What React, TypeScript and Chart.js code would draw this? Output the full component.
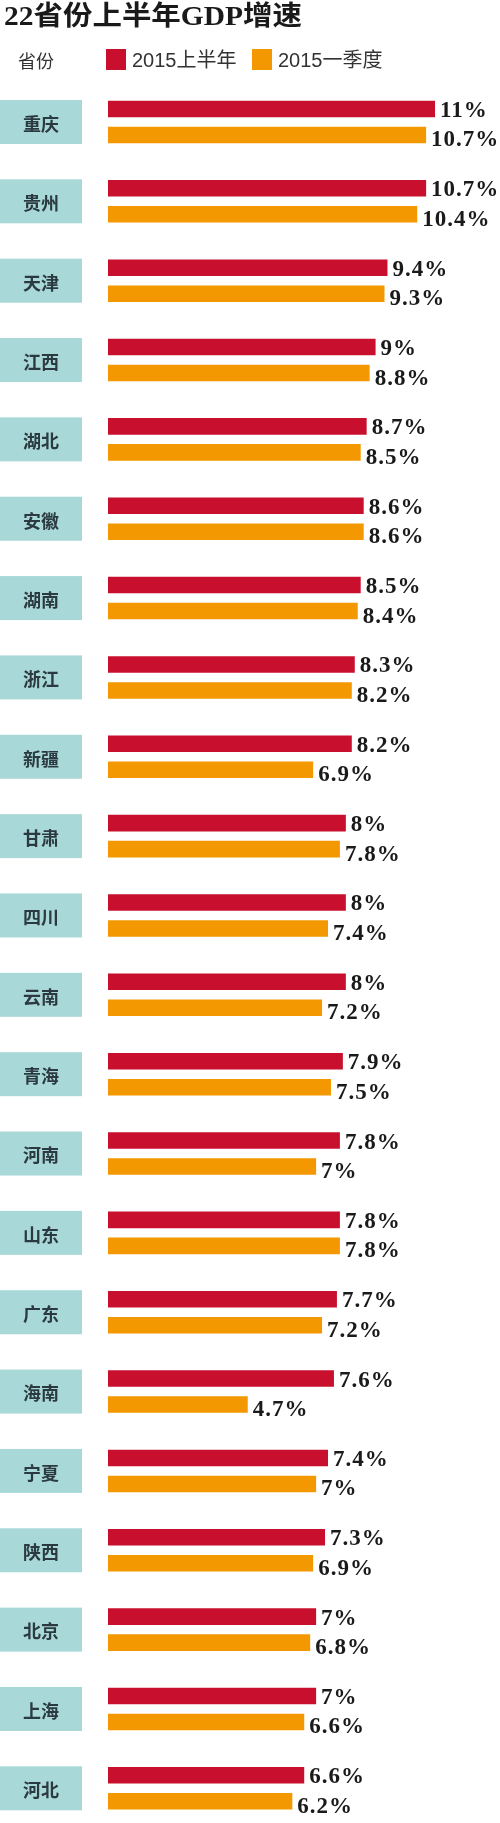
import React, { useEffect, useRef } from "react";
import { Chart, registerables } from "chart.js";

Chart.register(...registerables);

const titleText = "22省份上半年GDP增速";
const axisLabel = "省份";
const seriesNames = ["2015上半年", "2015一季度"];
const provinces = [
  "重庆", "贵州", "天津", "江西", "湖北", "安徽", "湖南", "浙江", "新疆", "甘肃", "四川",
  "云南", "青海", "河南", "山东", "广东", "海南", "宁夏", "陕西", "北京", "上海", "河北",
];
const firstHalf2015 = [11, 10.7, 9.4, 9, 8.7, 8.6, 8.5, 8.3, 8.2, 8, 8, 8, 7.9, 7.8, 7.8, 7.7, 7.6, 7.4, 7.3, 7, 7, 6.6];
const firstQuarter2015 = [10.7, 10.4, 9.3, 8.8, 8.5, 8.6, 8.4, 8.2, 6.9, 7.8, 7.4, 7.2, 7.5, 7, 7.8, 7.2, 4.7, 7, 6.9, 6.8, 6.6, 6.2];

const RED = "#c8102e";
const ORANGE = "#f39800";
const TEAL = "#a9d8d8";

export default function App() {
  const ref = useRef<HTMLCanvasElement>(null);

  useEffect(() => {
    const canvas = ref.current;
    if (!canvas) return;

    const decor = {
      id: "decor",
      beforeDatasetsDraw(chart: any) {
        const ctx = chart.ctx as CanvasRenderingContext2D;
        // title
        ctx.save();
        ctx.font = 'bold 27px "Liberation Serif", "Noto Sans CJK SC"';
        ctx.fillStyle = "#1a1a1a";
        ctx.textBaseline = "alphabetic";
        ctx.textAlign = "left";
        const w = ctx.measureText(titleText).width;
        ctx.translate(4, 25);
        ctx.scale(298 / w, 1);
        ctx.fillText(titleText, 0, 0);
        ctx.restore();

        // legend row
        ctx.save();
        ctx.textBaseline = "alphabetic";
        ctx.textAlign = "left";
        ctx.fillStyle = "#333";
        ctx.font = '18px "Noto Sans CJK SC"';
        ctx.fillText(axisLabel, 18, 68);
        const legendX = [106, 252];
        const colors = [RED, ORANGE];
        seriesNames.forEach((name, i) => {
          ctx.fillStyle = colors[i];
          ctx.fillRect(legendX[i], 49, 20, 21);
          ctx.fillStyle = "#333";
          ctx.font = '20px "Liberation Sans", "Noto Sans CJK SC"';
          ctx.fillText(name, legendX[i] + 26, 67);
        });
        ctx.restore();

        // province boxes
        const yScale = chart.scales.y;
        ctx.save();
        provinces.forEach((p, i) => {
          const cy = yScale.getPixelForValue(i);
          ctx.fillStyle = TEAL;
          ctx.fillRect(0, cy - 22, 82, 44);
          ctx.fillStyle = "#2b3a40";
          ctx.font = 'bold 18px "Noto Sans CJK SC"';
          ctx.textAlign = "center";
          ctx.textBaseline = "middle";
          ctx.fillText(p, 41, cy + 2);
        });
        ctx.restore();
      },
      afterDatasetsDraw(chart: any) {
        const ctx = chart.ctx as CanvasRenderingContext2D;
        ctx.save();
        ctx.font = 'bold 23px "Liberation Serif"';
        (ctx as any).letterSpacing = "1px";
        ctx.fillStyle = "#1a1a1a";
        ctx.textAlign = "left";
        ctx.textBaseline = "alphabetic";
        chart.data.datasets.forEach((ds: any, d: number) => {
          const meta = chart.getDatasetMeta(d);
          meta.data.forEach((el: any, i: number) => {
            const v = ds.data[i];
            ctx.fillText(`${v}%`, el.x + 5, el.y + (d === 0 ? 8 : 11.5));
          });
        });
        ctx.restore();
      },
    };

    const chart = new Chart(canvas, {
      type: "bar",
      data: {
        labels: provinces,
        datasets: [
          { label: seriesNames[0], data: firstHalf2015, backgroundColor: RED, borderWidth: 0 },
          { label: seriesNames[1], data: firstQuarter2015, backgroundColor: ORANGE, borderWidth: 0 },
        ],
      },
      options: {
        indexAxis: "y",
        responsive: false,
        maintainAspectRatio: false,
        animation: false,
        devicePixelRatio: 1,
        layout: { padding: { left: 108, right: 5.5, top: 82.3, bottom: 0 } },
        datasets: { bar: { categoryPercentage: 0.6553, barPercentage: 0.635 } },
        scales: {
          x: { display: false, min: 0, max: 13, grid: { display: false } },
          y: { display: false, grid: { display: false } },
        },
        plugins: {
          legend: { display: false },
          tooltip: { enabled: false },
          title: { display: false },
        },
      } as any,
      plugins: [decor],
    });

    return () => chart.destroy();
  }, []);

  return (
    <div
      style={{
        position: "absolute",
        left: 0,
        top: 0,
        width: 500,
        height: 1823,
        overflow: "hidden",
        background: "#fff",
      }}
    >
      <canvas ref={ref} width={500} height={1828} style={{ display: "block", width: 500, height: 1828 }} />
    </div>
  );
}
